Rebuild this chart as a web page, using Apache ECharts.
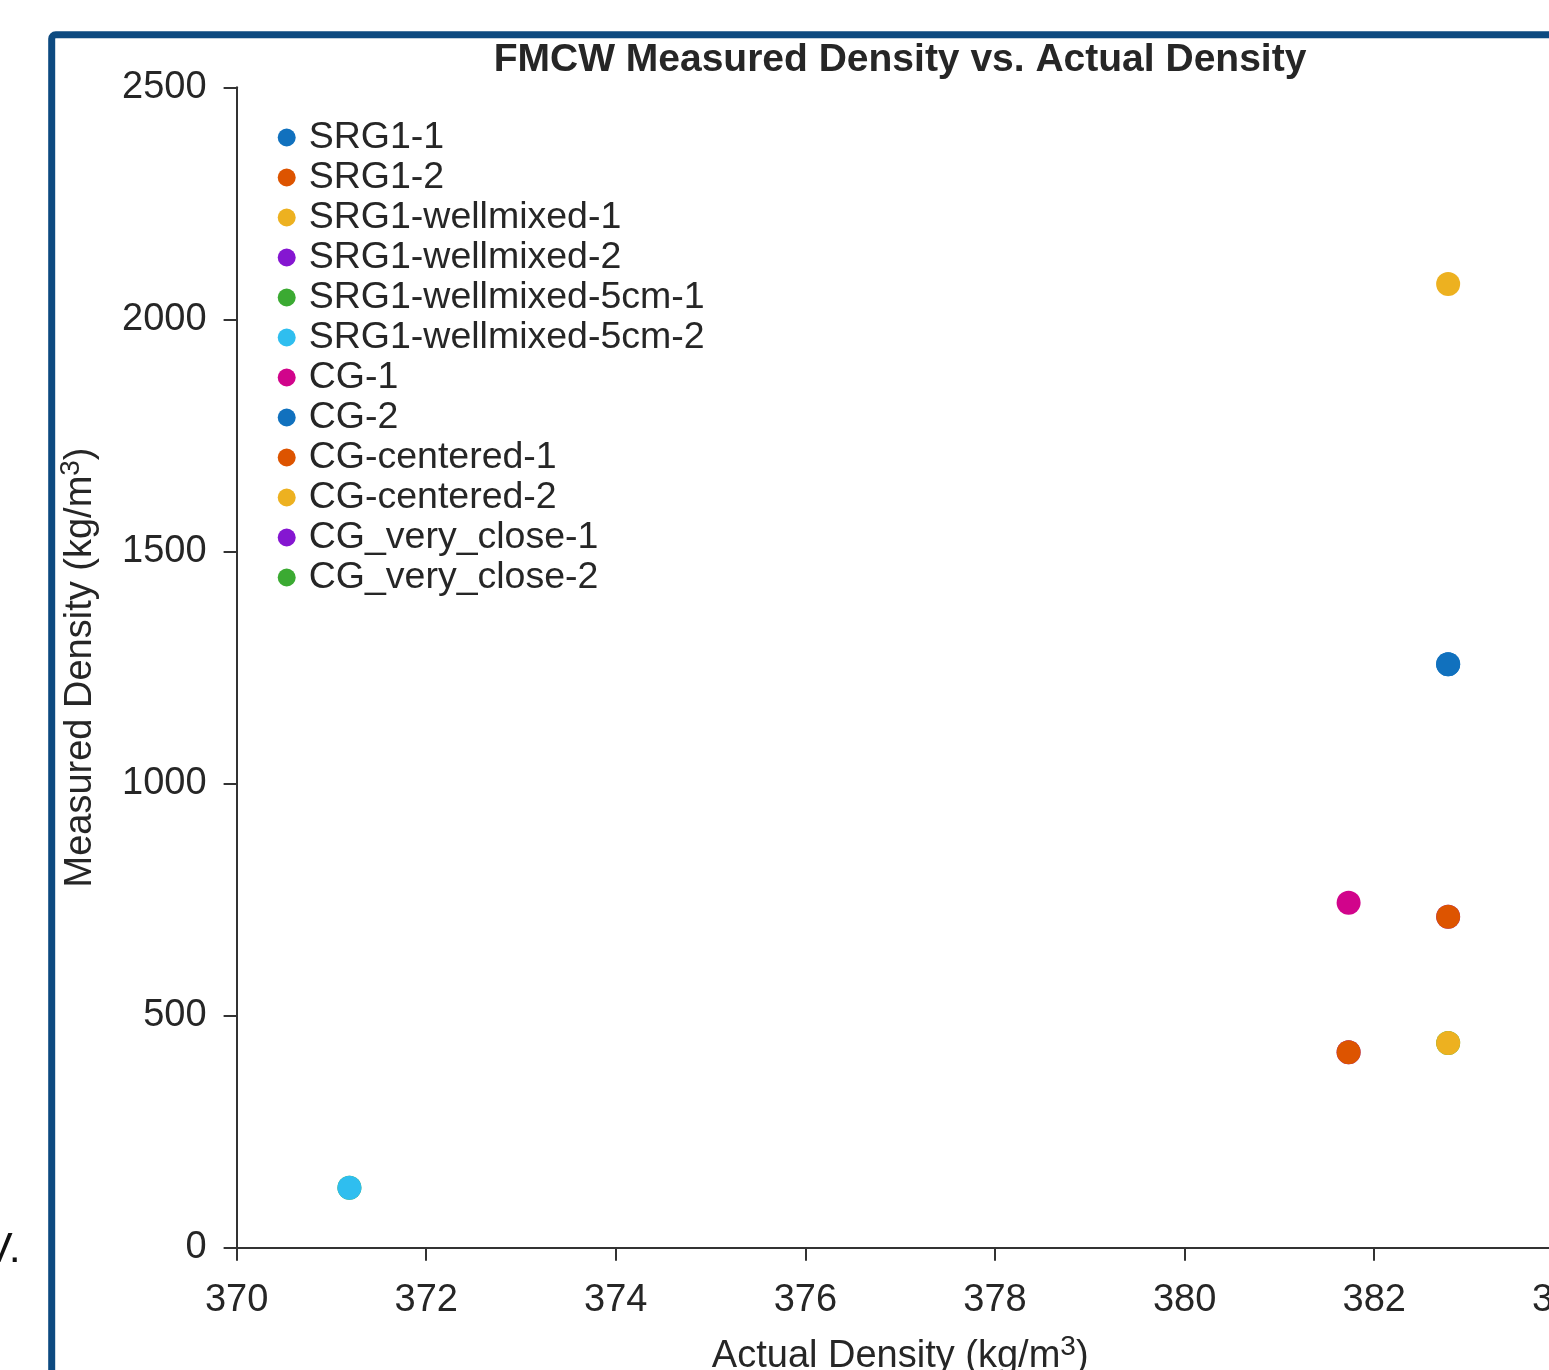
<!DOCTYPE html>
<html>
<head>
<meta charset="utf-8">
<script src="https://cdn.jsdelivr.net/npm/echarts@6/dist/echarts.min.js"></script>
<style>
html,body{margin:0;padding:0;background:#fff;}
#chart{width:1549px;height:1370px;}
</style>
</head>
<body>
<div id="chart"></div>
<script>
// Data
const seriesNames = [
  'SRG1-1', 'SRG1-2', 'SRG1-wellmixed-1', 'SRG1-wellmixed-2',
  'SRG1-wellmixed-5cm-1', 'SRG1-wellmixed-5cm-2', 'CG-1', 'CG-2',
  'CG-centered-1', 'CG-centered-2', 'CG_very_close-1', 'CG_very_close-2'
];
const actualDensity = [382.78, 381.73, 382.78, 382.78, 371.19, 371.19, 381.73, 382.78, 382.78, 382.78, 381.73, 382.78];
const measuredDensity = [1257, 421, 2076, 713, 129, 129, 743, 1257, 713, 441, 421, 441];
// series whose markers are hidden beneath another marker in the reference
const hiddenBelow = [false, false, false, true, true, false, false, false, false, false, true, true];
const palette = ['#1171BE', '#DD5400', '#EDB120', '#8516D1', '#3BAA32', '#2FBEEF', '#D1048B'];
const xTicks = [370, 372, 374, 376, 378, 380, 382, 384];
const yTicks = [0, 500, 1000, 1500, 2000, 2500];

const FONT = "'Liberation Sans', Arial, sans-serif";
const TXT = '#262626';

const chart = echarts.init(document.getElementById('chart'), null, {renderer: 'canvas'});

const series = seriesNames.map((name, i) => ({
  name: name,
  type: 'scatter',
  symbol: 'circle',
  symbolSize: 24,
  z: hiddenBelow[i] ? 1 : 2,
  itemStyle: {color: palette[i % palette.length], opacity: 1},
  emphasis: {disabled: true},
  data: [[actualDensity[i], measuredDensity[i]]]
}));

const supRich = {
  a: {fontSize: 38, lineHeight: 46, fontFamily: FONT, color: TXT},
  s: {fontSize: 28, lineHeight: 28, verticalAlign: 'top', fontFamily: FONT, color: TXT}
};

const option = {
  animation: false,
  backgroundColor: '#ffffff',
  color: palette,
  title: {
    text: 'FMCW Measured Density vs. Actual Density',
    left: 900,
    top: 41,
    textAlign: 'center',
    padding: 0,
    textStyle: {fontFamily: FONT, fontSize: 39, fontWeight: 'bold', color: TXT}
  },
  legend: {
    orient: 'vertical',
    left: 277.7,
    top: 117.5,
    padding: 0,
    itemGap: 0,
    itemWidth: 18,
    itemHeight: 18,
    icon: 'circle',
    selectedMode: false,
    textStyle: {fontFamily: FONT, fontSize: 37.5, lineHeight: 40, color: TXT, padding: [0, 0, 0, 8]},
    data: seriesNames
  },
  grid: {
    left: 236.6,
    top: 87.3,
    width: 1327.2,
    bottom: 122.3,
    containLabel: false,
    outerBoundsMode: 'none'
  },
  xAxis: {
    type: 'value',
    min: xTicks[0],
    max: xTicks[xTicks.length - 1],
    interval: 2,
    name: '{a|Actual Density (kg/m}{s|3}{a|)}',
    nameLocation: 'middle',
    nameGap: 86,
    nameTextStyle: {rich: supRich},
    axisLine: {show: true, onZero: false, lineStyle: {color: '#333333', width: 2}},
    axisTick: {show: true, inside: false, length: 13, lineStyle: {color: '#333333', width: 2}},
    axisLabel: {show: true, margin: 34, fontFamily: FONT, fontSize: 38, color: TXT, showMaxLabel: true, showMinLabel: true, hideOverlap: false,
      formatter: v => String(v)},
    splitLine: {show: false}
  },
  yAxis: {
    type: 'value',
    min: yTicks[0],
    max: yTicks[yTicks.length - 1],
    interval: 500,
    name: '{a|Measured Density (kg/m}{s|3}{a|)}',
    nameLocation: 'middle',
    nameGap: 133,
    nameRotate: 90,
    nameTextStyle: {rich: supRich},
    axisLine: {show: true, onZero: false, lineStyle: {color: '#333333', width: 2}},
    axisTick: {show: true, inside: false, length: 13, lineStyle: {color: '#333333', width: 2}},
    axisLabel: {show: true, margin: 30, fontFamily: FONT, fontSize: 38, color: TXT,
      formatter: v => String(v)},
    splitLine: {show: false}
  },
  graphic: [
    {
      type: 'rect',
      silent: true,
      z: 0,
      shape: {x: 51.7, y: 34.7, width: 2000, height: 2000, r: 4},
      style: {fill: null, stroke: '#0D4A80', lineWidth: 7}
    },
    {
      type: 'text',
      silent: true,
      left: -16,
      top: 1229,
      style: {text: 'V.', fontFamily: FONT, fontSize: 43, fill: '#111111'}
    }
  ],
  series: series
};

chart.setOption(option);
</script>
</body>
</html>
